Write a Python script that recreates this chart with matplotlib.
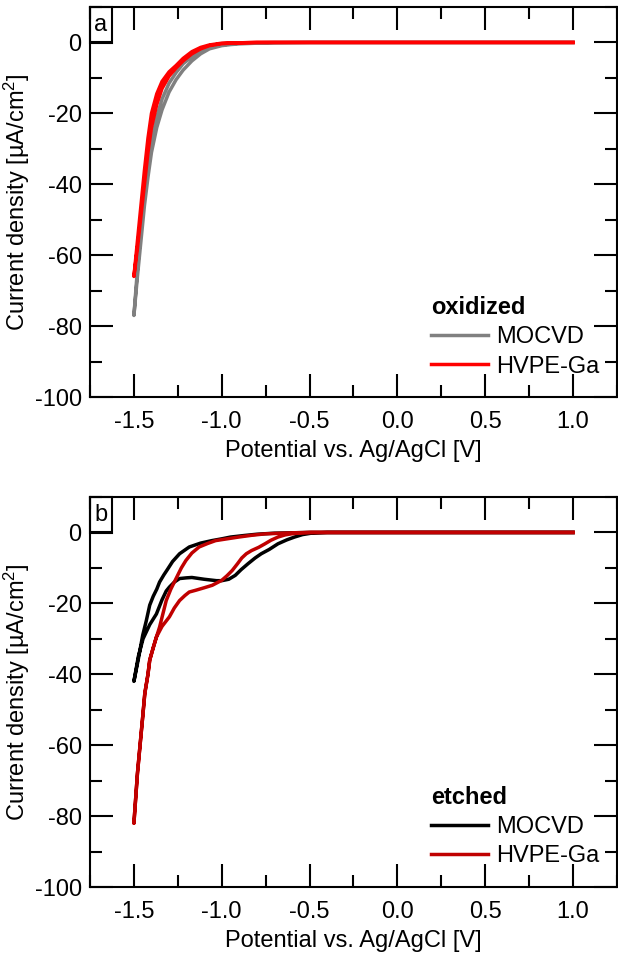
import matplotlib
matplotlib.use("Agg")
import matplotlib.pyplot as plt
from matplotlib.patches import Rectangle
from matplotlib.ticker import MultipleLocator

plt.rcParams['font.family'] = ['Liberation Sans', 'DejaVu Sans']
plt.rcParams['mathtext.fontset'] = 'custom'
plt.rcParams['mathtext.rm'] = 'Liberation Sans'
plt.rcParams['mathtext.it'] = 'Liberation Sans'
plt.rcParams['axes.unicode_minus'] = False

# --- panel a: oxidized ---
mocvd_ox_e1 = [-1.5, -1.48, -1.46, -1.44, -1.42, -1.40, -1.37, -1.34, -1.30, -1.26, -1.22,
               -1.17, -1.12, -1.07, -1.0, -0.95, -0.9, -0.8, -0.7, -0.5, 0.0, 0.5, 1.0]
mocvd_ox_j1 = [-77, -66, -56, -46, -38, -31, -24, -19, -14, -10.5, -7.8,
               -5.2, -3.2, -1.8, -0.9, -0.6, -0.4, -0.2, -0.1, 0, 0, 0, 0]
mocvd_ox_e2 = mocvd_ox_e1
mocvd_ox_j2 = [-77, -64, -53, -43, -35, -28, -21, -16, -11.5, -8.5, -6,
               -4, -2.5, -1.4, -0.7, -0.4, -0.2, -0.1, 0, 0, 0, 0, 0]

hvpe_ox_e1 = [-1.5, -1.48, -1.46, -1.44, -1.42, -1.40, -1.37, -1.34, -1.30, -1.26, -1.22,
              -1.17, -1.12, -1.07, -1.0, -0.9, -0.8, -0.5, 0.0, 0.5, 1.0]
hvpe_ox_j1 = [-66, -56, -46, -36, -27, -20, -14.5, -11, -8.3, -6.5, -4.5,
              -2.6, -1.4, -0.7, -0.2, -0.1, 0, 0, 0, 0, 0]
hvpe_ox_e2 = hvpe_ox_e1
hvpe_ox_j2 = [-66, -58, -49, -40, -31, -24, -17.5, -13, -9.5, -7.2, -5.2,
              -3.2, -1.8, -0.9, -0.35, -0.1, 0, 0, 0, 0, 0]

# --- panel b: etched ---
mocvd_et_e1 = [-1.5, -1.476, -1.45, -1.43, -1.41, -1.39, -1.37, -1.354, -1.33, -1.31, -1.28,
               -1.24, -1.185, -1.12, -1.056, -1.0, -0.95, -0.87, -0.8, -0.7, -0.6, -0.5,
               0.0, 0.5, 1.0]
mocvd_et_j1 = [-42, -36, -29, -25, -20.5, -18, -16, -14, -12, -10.5, -8.2,
               -6, -4.1, -3, -2.3, -1.8, -1.3, -0.85, -0.5, -0.2, -0.1, 0,
               0, 0, 0]
mocvd_et_e2 = [-1.5, -1.475, -1.448, -1.41, -1.372, -1.34, -1.316, -1.298, -1.27, -1.24, -1.2,
               -1.17, -1.1, -1.03, -1.0, -0.96, -0.923, -0.89, -0.85, -0.81, -0.775, -0.73,
               -0.68, -0.63, -0.586, -0.54, -0.49, -0.4, 0.0, 0.5, 1.0]
mocvd_et_j2 = [-42, -35, -30, -26, -23, -19, -16.5, -15.4, -14, -13, -12.8,
               -12.7, -13.2, -13.6, -13.6, -13.2, -12.1, -10.5, -8.8, -7.2, -6, -4.8,
               -3.2, -2.1, -1.3, -0.6, -0.2, 0, 0, 0, 0]

hvpe_et_e1 = [-1.5, -1.48, -1.466, -1.45, -1.438, -1.42, -1.41, -1.39, -1.372, -1.354, -1.316,
              -1.29, -1.26, -1.23, -1.204, -1.17, -1.129, -1.08, -1.035, -0.97, -0.904, -0.83,
              -0.754, -0.6, -0.5, 0.0, 0.5, 1.0]
hvpe_et_j1 = [-82, -68, -60.5, -52, -45.4, -40, -36, -32.5, -29.5, -26.7, -19.2,
              -16, -13, -10, -7.9, -5.8, -4.1, -3.1, -2.3, -1.8, -1.3, -0.8,
              -0.4, -0.1, 0, 0, 0, 0]
hvpe_et_e2 = [-1.5, -1.48, -1.466, -1.45, -1.438, -1.42, -1.41, -1.39, -1.372, -1.34, -1.298,
              -1.27, -1.24, -1.21, -1.185, -1.148, -1.1, -1.054, -1.0, -0.97, -0.94, -0.91,
              -0.886, -0.86, -0.83, -0.79, -0.754, -0.72, -0.68, -0.64, -0.605, -0.55, -0.49,
              0.0, 0.5, 1.0]
hvpe_et_j2 = [-82, -68, -60.5, -52, -45.4, -40, -36, -32.5, -29.5, -26.5, -23.8,
              -21.3, -19.2, -17.8, -16.8, -16.3, -15.6, -14.9, -13.5, -12.2, -10.7, -8.8,
              -7.2, -6, -5.1, -4.2, -3.2, -2.2, -1.3, -0.7, -0.4, -0.1, 0,
              0, 0, 0]

FS = 17


def loop(e1, j1, e2, j2):
    # one branch down to -1.5 V and the other back up
    return list(e1[::-1]) + list(e2), list(j1[::-1]) + list(j2)


def style_axes(ax, letter):
    ax.set_xlim(-1.75, 1.25)
    ax.set_ylim(-100, 10)
    ax.xaxis.set_minor_locator(MultipleLocator(0.25))
    ax.yaxis.set_minor_locator(MultipleLocator(10))
    ax.set_yticks([0, -20, -40, -60, -80, -100])
    ax.set_yticklabels(['0', '-20', '-40', '-60', '-80', '-100'])
    ax.set_xticks([-1.5, -1.0, -0.5, 0.0, 0.5, 1.0])
    ax.set_xticklabels(['-1.5', '-1.0', '-0.5', '0.0', '0.5', '1.0'])
    ax.tick_params(which='both', direction='in', top=True, right=True,
                   width=1.5, labelsize=FS)
    ax.tick_params(which='major', length=16.5)
    ax.tick_params(which='minor', length=8.5)
    ax.tick_params(axis='x', which='major', pad=10)
    ax.tick_params(axis='y', which='major', pad=6)
    for s in ax.spines.values():
        s.set_linewidth(1.5)
    ax.set_xlabel('Potential vs. Ag/AgCl [V]', fontsize=FS, labelpad=5)
    ax.set_ylabel('Current density [µA/cm$^2$]', fontsize=FS, labelpad=2)
    bw, bh = 22 / 527, 36 / 390
    ax.add_patch(Rectangle((0, 1 - bh), bw, bh, transform=ax.transAxes,
                           fill=False, lw=1.5, ec='black', clip_on=False, zorder=5))
    ax.text(bw / 2, 1 - bh / 2, letter, transform=ax.transAxes, fontsize=FS,
            ha='center', va='center')


def add_legend(ax, title):
    leg = ax.legend(loc='lower left', bbox_to_anchor=(0.647, 0.05), borderaxespad=0,
                    borderpad=0, frameon=False, fontsize=FS, title=title,
                    title_fontproperties={'weight': 'bold', 'size': FS},
                    alignment='left', handlelength=2.4, handletextpad=0.34,
                    labelspacing=0.3)
    return leg


fig = plt.figure(figsize=(6.18, 9.61), dpi=100)
ax_a = fig.add_axes([90 / 618, 1 - 397 / 961, 527 / 618, 390 / 961])
ax_b = fig.add_axes([90 / 618, 1 - 887 / 961, 527 / 618, 390 / 961])

e, j = loop(mocvd_ox_e1, mocvd_ox_j1, mocvd_ox_e2, mocvd_ox_j2)
ax_a.plot(e, j, color='#808080', lw=2.5, label='MOCVD')
e, j = loop(hvpe_ox_e1, hvpe_ox_j1, hvpe_ox_e2, hvpe_ox_j2)
ax_a.plot(e, j, color='#ff0000', lw=2.5, label='HVPE-Ga')
style_axes(ax_a, 'a')
add_legend(ax_a, 'oxidized')

e, j = loop(mocvd_et_e1, mocvd_et_j1, mocvd_et_e2, mocvd_et_j2)
ax_b.plot(e, j, color='#000000', lw=2.5, label='MOCVD')
e, j = loop(hvpe_et_e1, hvpe_et_j1, hvpe_et_e2, hvpe_et_j2)
ax_b.plot(e, j, color='#c00000', lw=2.5, label='HVPE-Ga')
style_axes(ax_b, 'b')
add_legend(ax_b, 'etched')

fig.savefig('out.png', dpi=100)
